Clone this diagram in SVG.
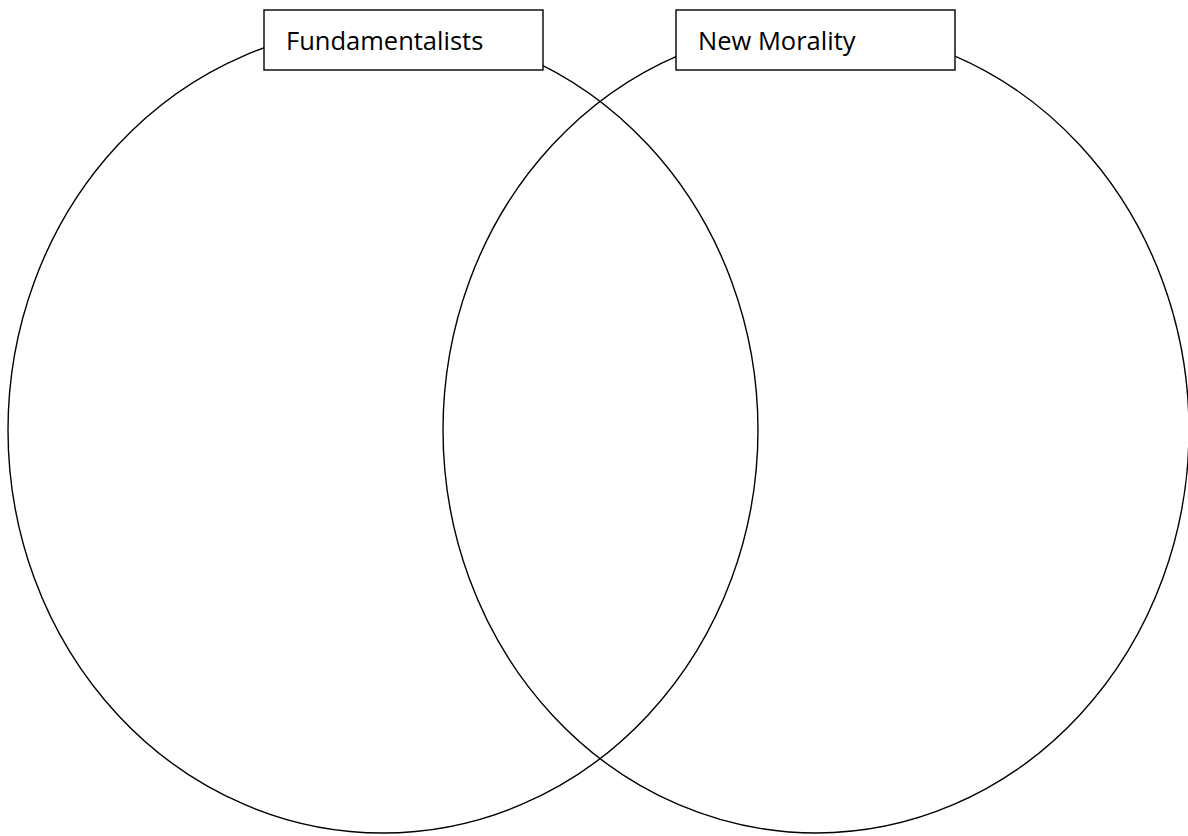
<svg xmlns="http://www.w3.org/2000/svg" width="1188" height="836" viewBox="0 0 1188 836">
<style>
.c{fill:none;stroke:#000;stroke-width:1.4}
.b{fill:#fff;stroke:#000;stroke-width:1.4}
.t{font-family:"Open Sans","Liberation Sans",sans-serif;font-size:25.5px;fill:#000}
</style>
<rect width="1188" height="836" fill="#fff"/>
<g id="circles">
<ellipse id="left-circle" class="c" cx="383" cy="430" rx="375" ry="403"/>
<ellipse id="right-circle" class="c" cx="816" cy="430" rx="373" ry="403"/>
</g>
<g id="label-fundamentalists">
<rect class="b" x="264" y="10" width="279" height="60"/>
<text class="t" x="286" y="50">Fundamentalists</text>
</g>
<g id="label-new-morality">
<rect class="b" x="676" y="10" width="279" height="60"/>
<text class="t" x="698" y="50">New Morality</text>
</g>
</svg>
